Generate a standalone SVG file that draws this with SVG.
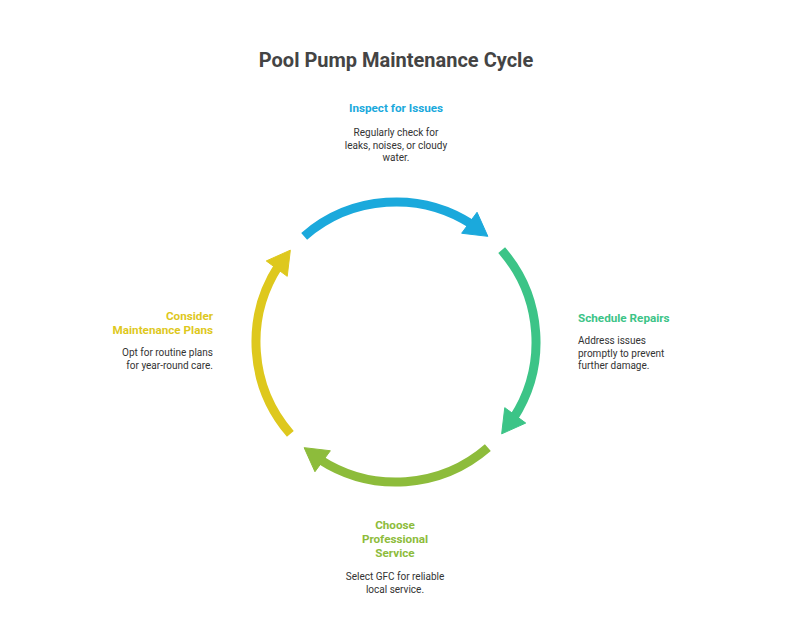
<svg xmlns="http://www.w3.org/2000/svg" width="792" height="642" viewBox="0 0 792 642">
<style>
.title{font-family:Roboto,"Liberation Sans",sans-serif;font-weight:700;font-size:20px;fill:#444444}
.head{font-family:Roboto,"Liberation Sans",sans-serif;font-weight:700;font-size:11.7px}
.body{font-family:Roboto,"Liberation Sans",sans-serif;font-size:10px;fill:#333333}
.arc{fill:none;stroke-width:9}
.blue{fill:#1BA9DC}.green{fill:#3CC487}.olive{fill:#8DBC3B}.yellow{fill:#DEC81D}
</style>
<defs>
<g id="seg">
<path class="arc" d="M304.15,236.34 A140,140 0 0 1 472.25,224.58"/>
<polygon points="487.85,236.34 477.06,212.28 461.66,233.24"/>
</g>
</defs>
<rect width="792" height="642" fill="#ffffff"/>
<text class="title" x="396" y="67" text-anchor="middle">Pool Pump Maintenance Cycle</text>
<g id="connectors">
<use href="#seg" style="stroke:#1BA9DC;fill:#1BA9DC"/>
<use href="#seg" transform="rotate(90 396 342)" style="stroke:#3CC487;fill:#3CC487"/>
<use href="#seg" transform="rotate(180 396 342)" style="stroke:#8DBC3B;fill:#8DBC3B"/>
<use href="#seg" transform="rotate(270 396 342)" style="stroke:#DEC81D;fill:#DEC81D"/>
</g>
<g id="inspect">
<text class="head blue" x="396" y="112" text-anchor="middle">Inspect for Issues</text>
<text class="body" x="396" text-anchor="middle"><tspan x="396" y="136">Regularly check for</tspan><tspan x="396" y="148.5">leaks, noises, or cloudy</tspan><tspan x="396" y="161">water.</tspan></text>
</g>
<g id="schedule">
<text class="head green" x="578" y="322">Schedule Repairs</text>
<text class="body"><tspan x="578" y="344">Address issues</tspan><tspan x="578" y="356.5">promptly to prevent</tspan><tspan x="578" y="369">further damage.</tspan></text>
</g>
<g id="choose">
<text class="head olive" text-anchor="middle"><tspan x="395" y="529">Choose</tspan><tspan x="395" y="543">Professional</tspan><tspan x="395" y="557">Service</tspan></text>
<text class="body" text-anchor="middle"><tspan x="395" y="580">Select GFC for reliable</tspan><tspan x="395" y="592.5">local service.</tspan></text>
</g>
<g id="consider">
<text class="head yellow" text-anchor="end"><tspan x="213" y="320">Consider</tspan><tspan x="213" y="334">Maintenance Plans</tspan></text>
<text class="body" text-anchor="end"><tspan x="213" y="356">Opt for routine plans</tspan><tspan x="213" y="368.5">for year-round care.</tspan></text>
</g>
</svg>
